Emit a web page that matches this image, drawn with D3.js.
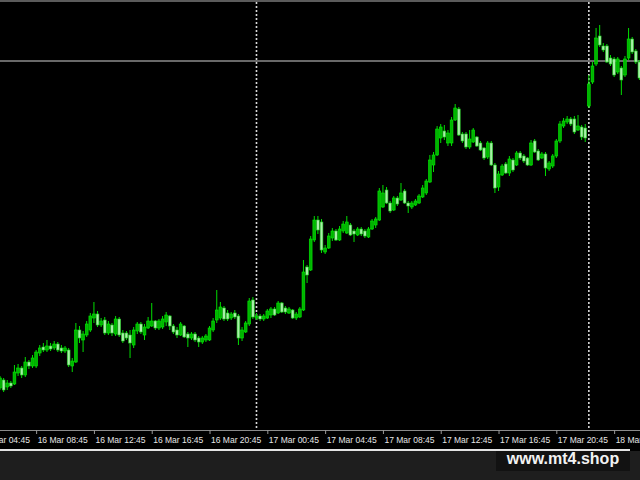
<!DOCTYPE html>
<html><head><meta charset="utf-8">
<script src="https://cdn.jsdelivr.net/npm/d3@7"></script>
<style>html,body{margin:0;padding:0;background:#000;overflow:hidden}</style>
</head><body>
<svg id="c" width="640" height="480"></svg>
<script>
// ---- data (M15 bars) ----
const firstBarTime = "16 Mar 06:15";
const barMinutes = 15;
const opens = [1612,1620,1613,1617,1616,1627,1632,1625,1638,1634,
1634,1647,1653,1650,1654,1652,1656,1652,1649,1650,
1634,1638,1670,1660,1665,1670,1682,1686,1675,1680,
1667,1675,1666,1681,1667,1667,1665,1655,1669,1676,
1665,1672,1674,1679,1672,1673,1678,1684,1674,1670,
1665,1674,1666,1662,1666,1662,1658,1660,1660,1670,
1680,1682,1692,1687,1682,1687,1684,1662,1668,1676,
1700,1682,1684,1681,1682,1685,1691,1687,1697,1692,
1687,1690,1682,1683,1690,1733,1730,1760,1780,1778,
1748,1752,1762,1769,1760,1769,1767,1775,1769,1765,
1771,1769,1763,1771,1775,1780,1793,1810,1797,1790,
1802,1800,1809,1797,1793,1795,1797,1803,1807,1818,
1835,1845,1862,1869,1857,1857,1880,1891,1866,1866,
1853,1858,1863,1857,1852,1843,1857,1835,1813,1825,
1836,1827,1840,1835,1847,1844,1842,1835,1859,1849,
1842,1846,1831,1834,1844,1859,1874,1878,1881,1881,
1870,1873,1872,1894,1918,1936,1964,1954,1954,1942,
1941,1928,1932,1925,1942,1961,1949,1938];
const highs = [1624,1622,1620,1619,1635,1636,1634,1643,1640,1645,
1650,1655,1657,1660,1657,1659,1658,1655,1654,1652,
1642,1677,1674,1669,1679,1687,1698,1689,1682,1683,
1679,1677,1684,1683,1670,1669,1670,1673,1678,1678,
1676,1683,1697,1680,1681,1684,1688,1685,1676,1673,
1678,1675,1668,1668,1668,1664,1664,1666,1674,1682,
1710,1698,1694,1690,1688,1690,1686,1673,1679,1702,
1703,1687,1686,1686,1691,1693,1693,1699,1698,1694,
1693,1691,1688,1693,1740,1735,1764,1784,1784,1781,
1755,1767,1772,1771,1774,1779,1784,1777,1771,1773,
1773,1771,1773,1781,1783,1812,1815,1813,1799,1804,
1804,1817,1811,1799,1799,1801,1806,1815,1821,1845,
1848,1874,1876,1875,1870,1883,1896,1893,1868,1868,
1870,1872,1864,1859,1853,1859,1859,1837,1829,1836,
1838,1844,1842,1849,1849,1846,1843,1860,1861,1851,
1848,1848,1839,1846,1861,1879,1882,1884,1883,1884,
1885,1875,1876,1925,1938,1972,1975,1957,1956,1945,
1943,1943,1934,1944,1972,1963,1951,1940];
const lows = [1610,1608,1610,1612,1615,1624,1622,1623,1631,1632,
1632,1644,1648,1648,1649,1650,1648,1647,1647,1633,
1628,1637,1657,1648,1663,1668,1677,1673,1673,1665,
1665,1664,1664,1663,1657,1660,1642,1652,1666,1666,
1660,1671,1673,1670,1670,1671,1674,1670,1666,1662,
1664,1662,1653,1660,1658,1653,1656,1658,1659,1668,
1677,1680,1679,1679,1680,1681,1655,1659,1667,1674,
1681,1680,1679,1679,1681,1682,1684,1686,1687,1686,
1686,1681,1680,1682,1689,1717,1729,1758,1766,1747,
1746,1751,1759,1759,1759,1767,1766,1764,1758,1764,
1764,1762,1762,1770,1772,1779,1792,1796,1787,1789,
1794,1799,1796,1787,1791,1794,1796,1802,1805,1817,
1828,1844,1857,1860,1854,1854,1879,1864,1857,1851,
1851,1857,1853,1849,1840,1841,1834,1807,1809,1824,
1826,1824,1828,1834,1840,1837,1834,1834,1847,1839,
1841,1824,1829,1832,1842,1857,1872,1876,1874,1866,
1869,1860,1858,1892,1916,1934,1953,1948,1937,1934,
1923,1926,1905,1923,1940,1946,1936,1920];
const closes = [1622,1610,1617,1614,1628,1632,1625,1638,1634,1642,
1648,1652,1650,1654,1651,1656,1650,1649,1652,1635,
1639,1670,1662,1666,1676,1684,1686,1675,1679,1667,
1676,1667,1681,1665,1659,1662,1657,1670,1676,1668,
1673,1679,1679,1672,1679,1681,1685,1674,1668,1665,
1676,1663,1662,1666,1660,1658,1662,1664,1672,1679,
1690,1693,1681,1681,1686,1683,1662,1670,1677,1699,
1683,1684,1681,1684,1689,1691,1685,1697,1688,1688,
1691,1682,1686,1691,1728,1725,1761,1780,1770,1750,
1752,1764,1769,1760,1771,1776,1778,1765,1766,1771,
1766,1764,1771,1779,1781,1809,1807,1797,1789,1802,
1796,1807,1797,1794,1797,1799,1804,1812,1819,1840,
1845,1871,1873,1863,1867,1880,1892,1865,1859,1853,
1861,1870,1854,1850,1842,1857,1835,1812,1826,1834,
1827,1841,1830,1847,1842,1839,1835,1857,1848,1840,
1846,1832,1837,1844,1859,1876,1879,1881,1876,1868,
1874,1863,1862,1916,1934,1962,1955,1950,1938,1936,
1925,1941,1920,1941,1961,1948,1938,1922];
const tickLabels = ["16 Mar 04:45","16 Mar 08:45","16 Mar 12:45","16 Mar 16:45","16 Mar 20:45",
"17 Mar 00:45","17 Mar 04:45","17 Mar 08:45","17 Mar 12:45","17 Mar 16:45","17 Mar 20:45","18 Mar 00:45"];
const separatorTimes = ["17 Mar 00:00","17 Mar 23:00"];
const levelPrice = 1939;
const priceMin = 1570, priceMax = 2000;

// ---- drawing ----
const parse = d3.timeParse("%d %b %H:%M");
const t0 = parse(firstBarTime);
const times = opens.map((_, i) => d3.timeMinute.offset(t0, barMinutes * i));
const barStep = 3.6125;
const svg = d3.select("#c");
const plotBottom = 430;

const x = d3.scaleTime().domain([times[0], times[times.length - 1]])
  .range([0, barStep * (times.length - 1)]);
const y = d3.scaleLinear().domain([priceMin, priceMax]).range([plotBottom, 0]);

svg.append("rect").attr("x",0).attr("y",0).attr("width",640).attr("height",451).attr("fill","#000");
svg.append("rect").attr("x",0).attr("y",451).attr("width",640).attr("height",29).attr("fill","#1e1e1e");

// top border
svg.append("line").attr("x1",0).attr("x2",640).attr("y1",1).attr("y2",1)
  .attr("stroke","#7a7a7a").attr("stroke-width",1.5);

// horizontal level line
svg.append("line").attr("x1",0).attr("x2",640)
  .attr("y1",y(levelPrice)).attr("y2",y(levelPrice))
  .attr("stroke","#8c8c8c").attr("stroke-width",1.4);

// period separators
svg.selectAll("line.sep").data(separatorTimes).join("line").attr("class","sep")
  .attr("x1", d => x(parse(d))).attr("x2", d => x(parse(d)))
  .attr("y1", 2).attr("y2", plotBottom)
  .attr("stroke","#d8d8d8").attr("stroke-width",1.6).attr("stroke-dasharray","2,2");

const idx = d3.range(opens.length);
const g = svg.append("g");
g.selectAll("line.wick").data(idx).join("line").attr("class","wick")
  .attr("x1", i => x(times[i])).attr("x2", i => x(times[i]))
  .attr("y1", i => y(highs[i])).attr("y2", i => y(lows[i]))
  .attr("stroke","#00dd00").attr("stroke-width",1);
g.selectAll("rect.body").data(idx).join("rect").attr("class","body")
  .attr("x", i => x(times[i]) - 1.4).attr("width", 2.8)
  .attr("y", i => y(Math.max(opens[i], closes[i])))
  .attr("height", i => Math.max(1, Math.abs(y(opens[i]) - y(closes[i]))))
  .attr("fill", i => closes[i] >= opens[i] ? "#00b400" : "#a8f0a8")
  .attr("stroke", i => closes[i] >= opens[i] ? "#00ee00" : "#22cc22")
  .attr("stroke-width", 0.6);

// time axis
const tickTimes = tickLabels.map(parse);
const axis = d3.axisBottom(x).tickValues(tickTimes).tickFormat((d, i) => tickLabels[i]).tickSize(4).tickSizeOuter(0);
const ax = svg.append("g").attr("transform", `translate(0,${plotBottom})`).call(axis);
ax.select(".domain").attr("stroke","#8a8a8a").attr("d","M0,0.5H640");
ax.selectAll(".tick line").attr("stroke","#9a9a9a");
ax.selectAll(".tick text").attr("fill","#e6e6e6").attr("text-anchor","start")
  .attr("x",1).attr("y",13).attr("dy","0")
  .style("font-family","'Liberation Sans', Arial, sans-serif").style("font-size","8.5px");

// bottom separator line
svg.append("line").attr("x1",0).attr("x2",630).attr("y1",450).attr("y2",450)
  .attr("stroke","#e4e4e4").attr("stroke-width",2);

// watermark
svg.append("rect").attr("x",496).attr("y",451).attr("width",134).attr("height",20).attr("fill","#121212");
svg.append("text").attr("x",563).attr("y",463.5).attr("text-anchor","middle")
  .attr("fill","#f2f2f2").style("font-family","'Liberation Sans', Arial, sans-serif")
  .style("font-weight","bold").style("font-size","16px").text("www.mt4.shop");
</script>
</body></html>
